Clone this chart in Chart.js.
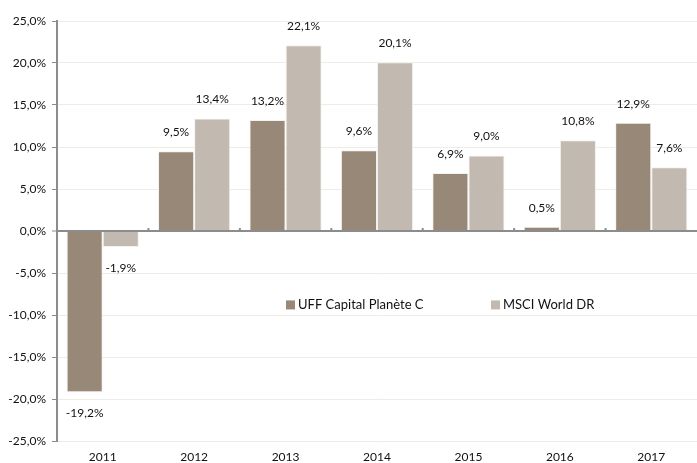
<!DOCTYPE html>
<html>
<head>
<meta charset="utf-8">
<script src="https://cdn.jsdelivr.net/npm/chart.js@4"></script>
<style>
  html, body { margin: 0; padding: 0; background: #fff; }
  .wrap { width: 697px; height: 463px; position: relative; }
</style>
</head>
<body>
<div class="wrap"><canvas id="perfChart"></canvas></div>
<script>
/* ── data ── */
const years = ['2011', '2012', '2013', '2014', '2015', '2016', '2017'];
const uffValues = [-19.2, 9.5, 13.2, 9.6, 6.9, 0.5, 12.9];
const msciValues = [-1.9, 13.4, 22.1, 20.1, 9.0, 10.8, 7.6];
const seriesNames = ['UFF Capital Planète C', 'MSCI World DR'];
const yTicks = [-25, -20, -15, -10, -5, 0, 5, 10, 15, 20, 25];

const FONT = 'Lato, "Open Sans", sans-serif';
const TEXT = '#111';
const fmt = v => v.toFixed(1).replace('.', ',') + '%';

/* ── value labels above / below each bar ── */
const valueLabels = {
  id: 'valueLabels',
  afterDatasetsDraw(chart) {
    const ctx = chart.ctx;
    ctx.save();
    ctx.font = '12px ' + FONT;
    ctx.fillStyle = TEXT;
    ctx.textAlign = 'center';
    ctx.textBaseline = 'middle';
    chart.data.datasets.forEach((ds, i) => {
      chart.getDatasetMeta(i).data.forEach((bar, j) => {
        const v = ds.data[j];
        const y = v >= 0 ? bar.y - 19 : bar.y + 21;
        ctx.fillText(fmt(v), bar.x, y);
      });
    });
    ctx.restore();
  },
};

/* ── small tick marks on the zero line + in-plot legend ── */
const extras = {
  id: 'extras',
  afterDraw(chart) {
    const ctx = chart.ctx;
    const x = chart.scales.x, y = chart.scales.y;
    const y0 = y.getPixelForValue(0);
    ctx.save();
    ctx.strokeStyle = '#8c8c8c';
    ctx.lineWidth = 2;
    const step = x.getPixelForTick(1) - x.getPixelForTick(0);
    for (let i = 1; i < years.length; i++) {
      const bx = x.getPixelForTick(i) - step / 2;
      ctx.beginPath();
      ctx.moveTo(bx, y0 - 3);
      ctx.lineTo(bx, y0);
      ctx.stroke();
    }
    // legend
    ctx.font = '13px ' + FONT;
    ctx.textBaseline = 'middle';
    const ly = y.getPixelForValue(-8.8);
    const lx = [286, 491];
    chart.data.datasets.forEach((ds, i) => {
      ctx.fillStyle = ds.backgroundColor;
      ctx.fillRect(lx[i], ly - 4.5, 9, 9);
      ctx.fillStyle = TEXT;
      ctx.fillText(ds.label, lx[i] + 12, ly);
    });
    ctx.restore();
  },
};

new Chart(document.getElementById('perfChart').getContext('2d'), {
  type: 'bar',
  data: {
    labels: years,
    datasets: [
      {
        label: seriesNames[0],
        data: uffValues,
        backgroundColor: '#978877',
        borderColor: '#f4f2ee',
        borderWidth: 1,
        categoryPercentage: 0.79,
        barPercentage: 1,
      },
      {
        label: seriesNames[1],
        data: msciValues,
        backgroundColor: '#c2bab0',
        borderColor: '#f4f2ee',
        borderWidth: 1,
        categoryPercentage: 0.79,
        barPercentage: 1,
      },
    ],
  },
  options: {
    responsive: true,
    maintainAspectRatio: false,
    animation: false,
    layout: { padding: { top: 21, left: 0, right: 0, bottom: 0 } },
    plugins: {
      legend: { display: false },
      tooltip: { enabled: false },
    },
    scales: {
      x: {
        grid: { display: false, drawTicks: false },
        border: { display: false },
        ticks: { font: { family: FONT, size: 12 }, color: TEXT, padding: 9 },
        afterFit: s => { s.height = 22; },
      },
      y: {
        min: -25,
        max: 25,
        afterBuildTicks: s => { s.ticks = yTicks.map(v => ({ value: v })); },
        afterFit: s => { s.width = 57; },
        ticks: {
          font: { family: FONT, size: 12 },
          color: TEXT,
          padding: 6,
          callback: v => fmt(v),
        },
        grid: {
          color: c => (c.tick && c.tick.value === 0 ? '#8c8c8c' : '#eeede5'),
          lineWidth: c => (c.tick && c.tick.value === 0 ? 2 : 1),
          tickColor: '#8c8c8c',
          tickLength: 5,
          tickWidth: 1,
        },
        border: { color: '#8c8c8c', width: 2 },
      },
    },
  },
  plugins: [valueLabels, extras],
});
</script>
</body>
</html>
